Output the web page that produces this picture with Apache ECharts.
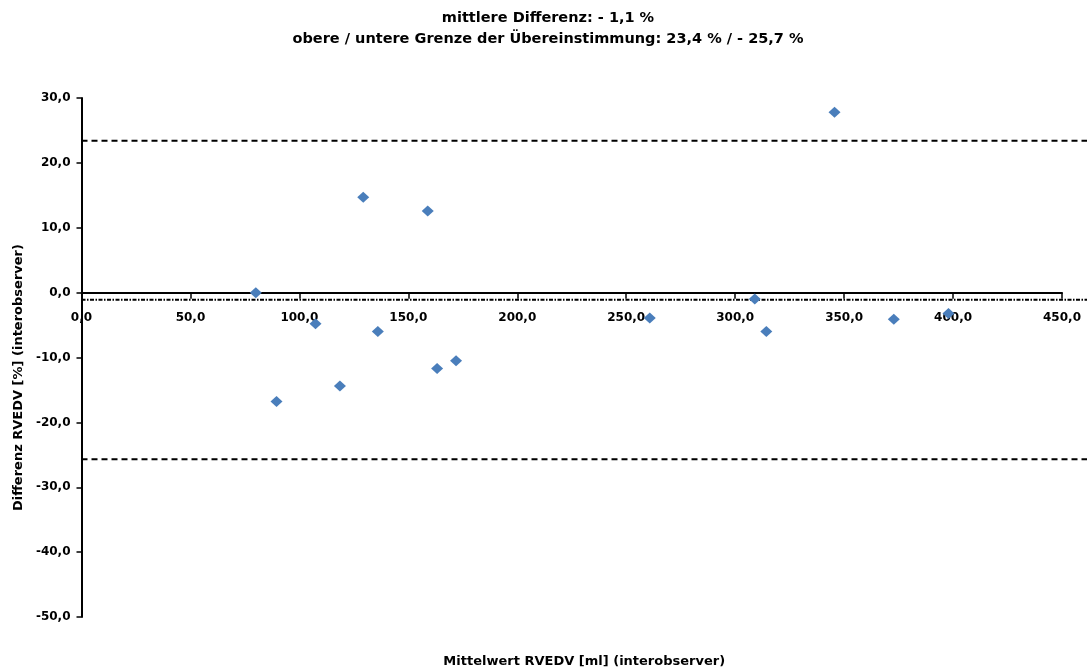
<!DOCTYPE html>
<html>
<head>
<meta charset="utf-8">
<script src="https://cdn.jsdelivr.net/npm/echarts@6/dist/echarts.min.js"></script>
<style>
  html, body { margin: 0; padding: 0; background: #fff; }
  #main { width: 1087px; height: 671px; }
</style>
</head>
<body>
<div id="main"></div>
<script>
// Mittelwert RVEDV [ml] and Differenz [%] per patient (interobserver)
var meanValues = [80.0, 89.5, 107.4, 118.6, 129.3, 136.0, 158.9, 163.2, 171.9, 260.8, 309.0, 314.3, 345.6, 372.8, 397.9];
var diffValues = [0.0, -16.8, -4.8, -14.4, 14.7, -6.0, 12.6, -11.7, -10.5, -3.9, -1.0, -6.0, 27.8, -4.1, -3.2];

var meanDiff = -1.1;
var upperLimit = 23.4;
var lowerLimit = -25.7;

var titleLines = [
  "mittlere Differenz: - 1,1 %",
  "obere / untere Grenze der Übereinstimmung: 23,4 % / - 25,7 %"
];

var myChart = echarts.init(document.getElementById("main"));

function comma(v) {
  return v.toFixed(1).replace(".", ",");
}

var points = meanValues.map(function (x, i) {
  return [x, diffValues[i]];
});

function hLine(y) {
  return [[0, y], [1, y]];
}

var font = "DejaVu Sans, sans-serif";

var option = {
  animation: false,
  backgroundColor: "#fff",
  title: {
    text: titleLines.join("\n"),
    left: 543,
    top: 3,
    textAlign: "center",
    textStyle: {
      fontFamily: font,
      fontWeight: "bold",
      fontSize: 14.5,
      lineHeight: 21,
      color: "#000"
    }
  },
  grid: [
    // plot area (points, y axis)
    { left: 81.5, right: 25, top: 98, bottom: 54, outerBoundsMode: "none" },
    // reference lines run to the right edge
    { left: 81.5, right: 0, top: 98, bottom: 54, outerBoundsMode: "none" },
    // x axis drawn through y = 0
    { left: 81.5, right: 25, top: 98, bottom: 378.3, outerBoundsMode: "none" }
  ],
  xAxis: [
    {
      type: "value",
      gridIndex: 0,
      min: 0,
      max: 450,
      show: false
    },
    {
      type: "value",
      gridIndex: 1,
      min: 0,
      max: 1,
      splitLine: { show: false },
      axisLine: { show: false, onZero: false },
      axisTick: { show: false },
      axisLabel: { show: false },
      name: "Mittelwert RVEDV [ml] (interobserver)",
      nameLocation: "middle",
      nameGap: 38,
      nameTextStyle: {
        color: "#000",
        fontFamily: font,
        fontWeight: "bold",
        fontSize: 13
      }
    },
    {
      type: "value",
      gridIndex: 2,
      min: 0,
      max: 450,
      interval: 50,
      splitLine: { show: false },
      axisLine: { onZero: false, lineStyle: { color: "#000", width: 2 } },
      axisTick: { length: 6, lineStyle: { color: "#000", width: 1.5 } },
      axisLabel: {
        margin: 19,
        color: "#000",
        fontFamily: font,
        fontWeight: "bold",
        fontSize: 12,
        formatter: comma
      }
    }
  ],
  yAxis: [
    {
      type: "value",
      gridIndex: 0,
      min: -50,
      max: 30,
      interval: 10,
      splitLine: { show: false },
      axisLine: { onZero: false, lineStyle: { color: "#000", width: 2 } },
      axisTick: { length: 5, lineStyle: { color: "#000", width: 1.5 } },
      axisLabel: {
        margin: 11,
        color: "#000",
        fontFamily: font,
        fontWeight: "bold",
        fontSize: 12,
        formatter: comma
      },
      name: "Differenz RVEDV [%] (interobserver)",
      nameLocation: "middle",
      nameGap: 56,
      nameTextStyle: {
        color: "#000",
        fontFamily: font,
        fontWeight: "bold",
        fontSize: 13,
        padding: [0, 40, 0, 0]
      }
    },
    {
      type: "value",
      gridIndex: 1,
      min: -50,
      max: 30,
      show: false
    },
    {
      type: "value",
      gridIndex: 2,
      min: 0,
      max: 30,
      show: false
    }
  ],
  series: [
    {
      type: "line",
      xAxisIndex: 1,
      yAxisIndex: 1,
      data: hLine(upperLimit),
      symbol: "none",
      lineStyle: { color: "#000", width: 2, type: [6, 4] },
      z: 1
    },
    {
      type: "line",
      xAxisIndex: 1,
      yAxisIndex: 1,
      data: hLine(lowerLimit),
      symbol: "none",
      lineStyle: { color: "#000", width: 2, type: [6, 4] },
      z: 1
    },
    {
      type: "line",
      xAxisIndex: 1,
      yAxisIndex: 1,
      data: hLine(meanDiff),
      symbol: "none",
      lineStyle: { color: "#000", width: 2, type: [4, 1.5, 1.5, 1.5] },
      z: 1
    },
    {
      type: "scatter",
      xAxisIndex: 0,
      yAxisIndex: 0,
      data: points,
      symbol: "diamond",
      symbolSize: [12, 11],
      itemStyle: { color: "#4A7EBB", opacity: 1 },
      z: 5
    }
  ]
};

myChart.setOption(option);
</script>
</body>
</html>
